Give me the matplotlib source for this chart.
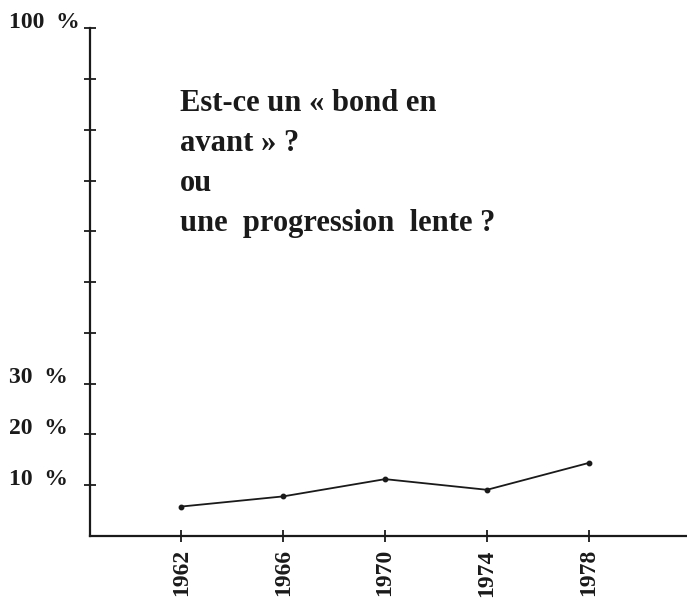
import matplotlib
matplotlib.use("Agg")
import matplotlib.pyplot as plt

years = [1962, 1966, 1970, 1974, 1978]
values = [5.8, 7.8, 11.2, 9.1, 14.4]
ytick_values = [10, 20, 30, 40, 50, 60, 70, 80, 90, 100]
ylabel_values = [10, 20, 30, 100]
ylabel_texts = ["10  %", "20  %", "30  %", "100  %"]
question = "Est-ce un « bond en\navant » ?\nou\nune  progression  lente ?"

plt.rcParams['font.family'] = ['Liberation Serif', 'DejaVu Serif']

fig = plt.figure(figsize=(6.87, 6.02), dpi=100)
W, H = 687, 602
ax = fig.add_axes([89.5 / W, 1 - 536 / H, (W - 89.5) / W, (536 - 28.3) / H])
ax.set_xlim(1958.4, 1981.85)
ax.set_ylim(0, 100)

ax.plot(years, values, color='#1a1a1a', lw=1.3, marker='o', ms=3.2)

for s in ['top', 'right']:
    ax.spines[s].set_visible(False)
for s in ['left', 'bottom']:
    ax.spines[s].set_linewidth(1.6)
    ax.spines[s].set_color('#1a1a1a')

ax.set_yticks(ytick_values)
ax.set_yticklabels([])
ax.set_xticks(years)
ax.set_xticklabels([str(y) for y in years], rotation=90, fontsize=17,
                   fontweight='bold', color='#1a1a1a')
ax.tick_params(axis='both', direction='inout', length=9, width=1.3, color='#1a1a1a')
ax.tick_params(axis='x', pad=5)

for v, t in zip(ylabel_values, ylabel_texts):
    y_disp = ax.transData.transform((0, v))[1]
    fig.text(9 / W, (y_disp + 6) / H, t, ha='left', va='center',
             fontsize=17, fontweight='bold', color='#1a1a1a')

fig.text(180 / W, 1 - 89 / H, question, ha='left', va='top', fontsize=22,
         fontweight='bold', color='#1a1a1a', linespacing=1.5)

fig.savefig("out.png", dpi=100)
